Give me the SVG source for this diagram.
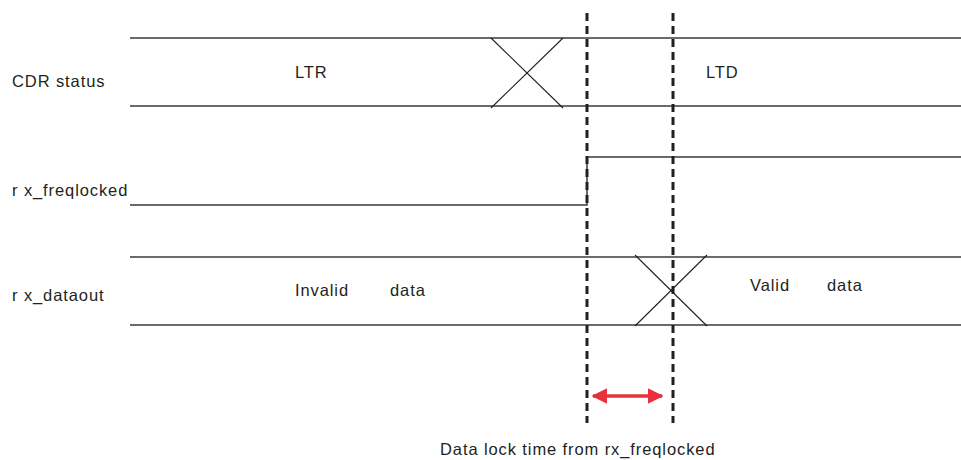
<svg xmlns="http://www.w3.org/2000/svg" width="961" height="460" viewBox="0 0 961 460">
<style>
text{font-family:"Liberation Sans",Arial,sans-serif;font-size:16.5px;letter-spacing:0.9px;fill:#231f20}
.sig{stroke:#3a3a3a;stroke-width:1.5;fill:none}
.x{stroke:#231f20;stroke-width:1.1;fill:none}
.dash{stroke:#231f20;stroke-width:3;stroke-dasharray:8 5;fill:none}
</style>
<defs>
<marker id="ah" viewBox="0 0 10 10" refX="9" refY="5" markerWidth="4.5" markerHeight="4.5" orient="auto-start-reverse" markerUnits="strokeWidth"><path d="M0,0 L10,5 L0,10 z" fill="#e8313a"/></marker>
</defs>
<rect width="961" height="460" fill="#fff"/>
<g id="cdr-status">
<line class="sig" x1="130" y1="38" x2="961" y2="38"/>
<line class="sig" x1="130" y1="106" x2="961" y2="106"/>
<line class="x" x1="491" y1="38" x2="563" y2="108"/>
<line class="x" x1="491" y1="108" x2="563" y2="38"/>
<text x="12" y="87">CDR status</text>
<text x="295" y="78">LTR</text>
<text x="706" y="78">LTD</text>
</g>
<g id="rx-freqlocked">
<polyline class="sig" points="130,205 587,205 587,157 961,157"/>
<text x="12" y="196">r x_freqlocked</text>
</g>
<g id="rx-dataout">
<line class="sig" x1="130" y1="257" x2="961" y2="257"/>
<line class="sig" x1="130" y1="325" x2="961" y2="325"/>
<line class="x" x1="635" y1="255" x2="707" y2="326"/>
<line class="x" x1="635" y1="326" x2="707" y2="255"/>
<text x="12" y="301">r x_dataout</text>
<text x="295" y="296">Invalid</text>
<text x="390" y="296">data</text>
<text x="750" y="291">Valid</text>
<text x="827" y="291">data</text>
</g>
<g id="connectors">
<line class="dash" x1="587" y1="13" x2="587" y2="423"/>
<line class="dash" x1="673" y1="13" x2="673" y2="423"/>
<line x1="593" y1="396" x2="662" y2="396" stroke="#e8313a" stroke-width="3.5" marker-start="url(#ah)" marker-end="url(#ah)"/>
</g>
<g id="caption">
<text x="440" y="455">Data lock time from rx_freqlocked</text>
</g>
</svg>
